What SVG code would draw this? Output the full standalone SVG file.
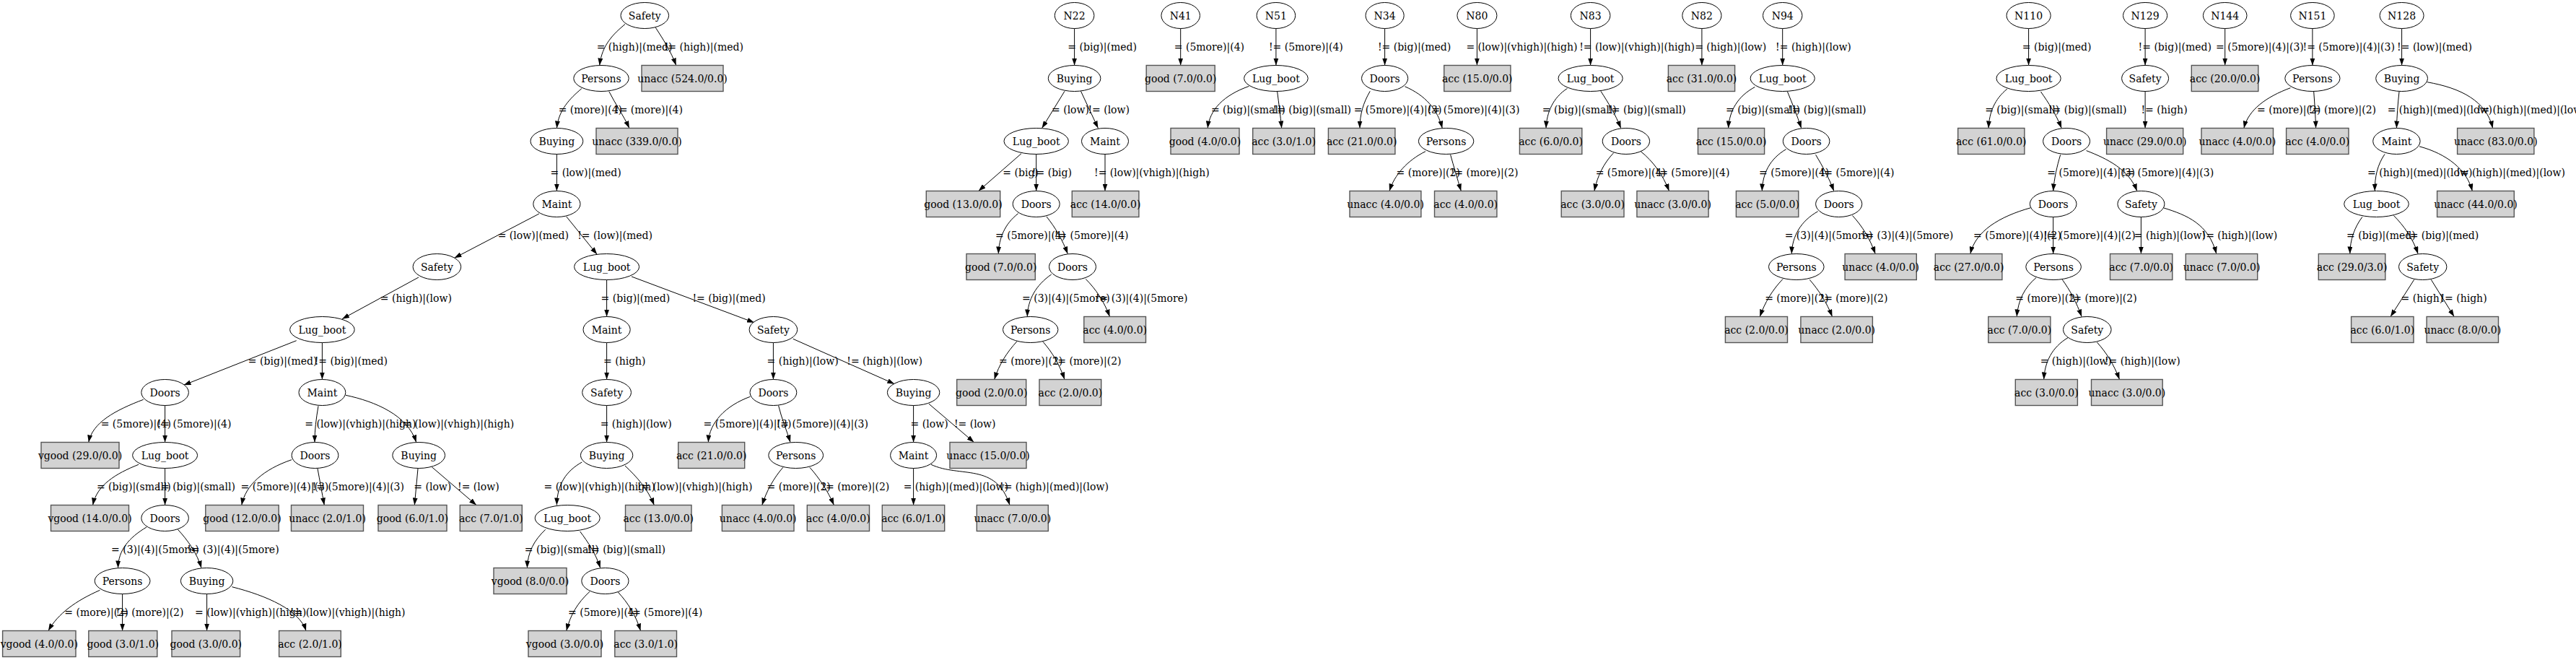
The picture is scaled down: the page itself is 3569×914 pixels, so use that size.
<svg xmlns="http://www.w3.org/2000/svg" width="3569" height="914" viewBox="0 0 3569 914">
<style>
text{font-family:"DejaVu Serif","Liberation Serif",serif;font-size:14px;fill:#000}
.n ellipse{fill:#fff;stroke:#000;stroke-width:1}
.lf rect{fill:#d3d3d3;stroke:#555;stroke-width:1.4}
.n text,.lf text{text-anchor:middle}
#edges path{fill:none;stroke:#000;stroke-width:1;marker-end:url(#ah)}
.e{text-anchor:end}
</style>
<defs>
<marker id="ah" markerUnits="userSpaceOnUse" markerWidth="10" markerHeight="7" viewBox="0 0 10 7" refX="10" refY="3.5" orient="auto"><path d="M0,0L10,3.5L0,7z" fill="#000"/></marker>
</defs>
<rect width="3569" height="914" fill="#fff"/>
<g id="edges">
<!-- tree 1 -->
<path d="M866,33.5 C850,47 834,62 830.7,90.5"/>
<path d="M908.3,38.3 C918,53 930,72 936.7,90.5"/>
<path d="M805.8,122.7 C790,136 774,152 771.4,177.5"/>
<path d="M843.8,126.7 C853,145 864,160 871.9,177.5"/>
<path d="M771.4,213.5 L771.4,264.5"/>
<path d="M746.9,296 L629.5,357.3"/>
<path d="M784.8,300 L827.2,352.3"/>
<path d="M580,384 L474,441.7"/>
<path d="M840.6,387.5 L840.6,438.5"/>
<path d="M875,383 L1045,446.7"/>
<path d="M410.7,471.7 L254.5,533.3"/>
<path d="M446.4,474.5 L446.4,525.5"/>
<path d="M840.6,474.5 L840.6,525.5"/>
<path d="M1071.4,474.5 L1071.4,525.5"/>
<path d="M1098.7,469.3 L1239.3,531.7"/>
<path d="M198.7,553.3 C160,568 128,585 122.8,612.5"/>
<path d="M228.6,561.5 L228.6,612.5"/>
<path d="M441,562.3 C438,580 436,595 436,612.5"/>
<path d="M479,547.3 C520,556 565,575 576.7,612.5"/>
<path d="M840.6,561.5 L840.6,612.5"/>
<path d="M1039.3,549.3 C1005,562 983,585 981.3,612.5"/>
<path d="M1078.6,561.7 C1083,580 1090,596 1095,612.5"/>
<path d="M1265.6,561.5 L1265.6,612.5"/>
<path d="M1287,559.3 L1349.5,612.5"/>
<path d="M192,643.3 C160,656 134,672 128.6,699.5"/>
<path d="M228.6,648.5 L228.6,699.5"/>
<path d="M404,636.7 C365,650 340,672 334.8,699.5"/>
<path d="M440,649 C443,665 446,682 449.3,699.5"/>
<path d="M579,649 L574.3,699.5"/>
<path d="M598.3,646.7 L660,699.5"/>
<path d="M806.3,640 C785,652 772,670 771.4,699.5"/>
<path d="M866,645 C882,660 898,678 906.3,699.5"/>
<path d="M1084.8,647.3 C1072,662 1062,680 1055.8,699.5"/>
<path d="M1121.9,647.3 C1135,662 1147,680 1155.4,699.5"/>
<path d="M1265.6,648.5 L1265.6,699.5"/>
<path d="M1290,643.3 C1330,662 1380,640 1399,699.5"/>
<path d="M203,730 C178,745 164,762 163.5,786.5"/>
<path d="M246.4,733.3 C260,748 273,766 279,786.5"/>
<path d="M755.8,733.3 C740,748 731,765 730.4,786.5"/>
<path d="M803.6,736 C815,751 826,768 831.7,786.5"/>
<path d="M138.4,817.3 C105,832 80,850 67,873.5"/>
<path d="M169.6,822.5 L169.6,873.5"/>
<path d="M286.6,822.5 L286.6,873.5"/>
<path d="M321.4,812.7 C370,825 415,845 424,873.5"/>
<path d="M817,819.3 C800,835 790,852 784.8,873.5"/>
<path d="M856.3,820 C870,835 881,852 887.5,873.5"/>
<!-- N22 -->
<path d="M1488.6,39.5 L1488.6,90.5"/>
<path d="M1475,126.3 L1443.6,177.5"/>
<path d="M1497.5,126.3 L1521.4,177.5"/>
<path d="M1415,212.7 L1355.7,264.5"/>
<path d="M1435.7,213.5 L1435.7,264.5"/>
<path d="M1531,213.5 L1531,264.5"/>
<path d="M1410.7,295.7 C1392,310 1384,330 1383.3,351.5"/>
<path d="M1450,300 C1462,315 1472,332 1479.3,351.5"/>
<path d="M1456.7,380 C1435,395 1424,415 1423.3,438.5"/>
<path d="M1504.3,386.5 C1518,400 1530,418 1537.5,438.5"/>
<path d="M1409,472.7 C1395,488 1384,505 1377.7,525.5"/>
<path d="M1445,473.3 C1458,488 1468,505 1475,525.5"/>
<!-- N41 -->
<path d="M1635.7,39.5 L1635.7,90.5"/>
<!-- N51 -->
<path d="M1767.9,39.5 L1767.9,90.5"/>
<path d="M1730.4,119.4 C1695,132 1676,152 1673.2,177.5"/>
<path d="M1769.6,126.5 C1772,145 1774,160 1775.7,177.5"/>
<!-- N34 -->
<path d="M1918.6,39.5 L1918.6,90.5"/>
<path d="M1898.2,126.3 C1889,142 1884,158 1884,177.5"/>
<path d="M1946.4,119.8 C1975,132 1992,152 1998.2,177.5"/>
<path d="M1975,209.7 C1950,222 1932,242 1925,264.5"/>
<path d="M2009.6,214.3 C2014,230 2019,247 2024.3,264.5"/>
<!-- N80 -->
<path d="M2046.4,39.5 L2046.4,90.5"/>
<!-- N83 -->
<path d="M2203.6,39.5 L2203.6,90.5"/>
<path d="M2171.4,122.5 C2152,135 2143,155 2142,177.5"/>
<path d="M2217.9,126.3 C2228,142 2238,158 2245.7,177.5"/>
<path d="M2235.7,211.6 C2222,226 2213,244 2208.9,264.5"/>
<path d="M2273.2,209.7 C2290,223 2304,242 2312.5,264.5"/>
<!-- N82 -->
<path d="M2357.9,39.5 L2357.9,90.5"/>
<!-- N94 -->
<path d="M2469.7,39.5 L2469.7,90.5"/>
<path d="M2431.4,120.5 C2408,133 2396,153 2394.6,177.5"/>
<path d="M2476.5,127 C2483,143 2490,160 2495.7,177.5"/>
<path d="M2474.6,206.7 C2452,220 2442,240 2441.3,264.5"/>
<path d="M2515.6,214.3 C2525,230 2534,246 2540.8,264.5"/>
<path d="M2518.6,292.8 C2495,306 2483,327 2482.3,351.5"/>
<path d="M2566.5,298.5 C2580,313 2591,331 2598.2,351.5"/>
<path d="M2470,386.5 C2456,401 2445,419 2438.3,438.5"/>
<path d="M2507.2,387.3 C2520,402 2531,419 2538.5,438.5"/>
<!-- N110 -->
<path d="M2810.6,39.5 L2810.6,90.5"/>
<path d="M2780.8,123.2 C2764,137 2756,155 2755.1,177.5"/>
<path d="M2827.5,127 C2838,142 2849,159 2856.2,177.5"/>
<path d="M2854.7,214.3 C2850,230 2846,247 2844.7,264.5"/>
<path d="M2890.6,208.6 C2920,220 2950,235 2960.7,264.5"/>
<path d="M2813.3,287.8 C2770,300 2737,320 2729.9,351.5"/>
<path d="M2844.7,300.5 L2844.7,351.5"/>
<path d="M2966.4,300.5 L2966.4,351.5"/>
<path d="M2998,288 C3030,298 3060,310 3070.8,351.5"/>
<path d="M2821,384.6 C2805,398 2796,416 2794.2,438.5"/>
<path d="M2857.3,387.3 C2868,402 2877,419 2884.1,438.5"/>
<path d="M2865,467.7 C2843,481 2833,501 2831.7,525.5"/>
<path d="M2905.2,473.8 C2918,488 2929,505 2936.5,525.5"/>
<!-- N129 -->
<path d="M2972.1,39.5 L2972.1,90.5"/>
<path d="M2972.1,126.5 L2972.1,177.5"/>
<!-- N144 -->
<path d="M3082.7,39.5 L3082.7,90.5"/>
<!-- N151 -->
<path d="M3203.9,39.5 L3203.9,90.5"/>
<path d="M3173.4,121.7 C3140,134 3115,152 3108.9,177.5"/>
<path d="M3205.7,127 C3207,145 3208,160 3208.6,177.5"/>
<!-- N128 -->
<path d="M3327.6,39.5 L3327.6,90.5"/>
<path d="M3324,127 C3322,145 3321,160 3320.4,177.5"/>
<path d="M3362.8,113.7 C3410,122 3445,140 3453.6,177.5"/>
<path d="M3304,213.5 C3294,228 3290,245 3290.3,264.5"/>
<path d="M3352,202.8 C3390,213 3418,235 3425.3,264.5"/>
<path d="M3272.9,300.4 C3262,315 3256,332 3255.8,351.5"/>
<path d="M3316.4,298.5 C3330,312 3343,330 3350.1,351.5"/>
<path d="M3344.7,387.3 L3312,438.5"/>
<path d="M3368.3,387.3 L3400.2,438.5"/>
<!-- edge labels -->
<g id="edge-labels">
<text x="826.7" y="69.5">= (high)|(med)</text>
<text class="e" x="1030" y="69.5">!= (high)|(med)</text>
<text x="773.7" y="156.5">= (more)|(4)</text>
<text class="e" x="946" y="156.5">!= (more)|(4)</text>
<text x="762.5" y="243.5">= (low)|(med)</text>
<text x="689.7" y="330.5">= (low)|(med)</text>
<text class="e" x="904" y="330.5">!= (low)|(med)</text>
<text x="526.8" y="417.5">= (high)|(low)</text>
<text x="832.6" y="417.5">= (big)|(med)</text>
<text class="e" x="1060.7" y="417.5">!= (big)|(med)</text>
<text x="343.8" y="504.5">= (big)|(med)</text>
<text class="e" x="537" y="504.5">!= (big)|(med)</text>
<text x="836" y="504.5">= (high)</text>
<text x="1062.5" y="504.5">= (high)|(low)</text>
<text class="e" x="1278" y="504.5">!= (high)|(low)</text>
<text x="139.7" y="591.5">= (5more)|(4)</text>
<text class="e" x="320.5" y="591.5">!= (5more)|(4)</text>
<text x="422.3" y="591.5">= (low)|(vhigh)|(high)</text>
<text class="e" x="712.3" y="591.5">!= (low)|(vhigh)|(high)</text>
<text x="831.7" y="591.5">= (high)|(low)</text>
<text x="974.6" y="591.5">= (5more)|(4)|(3)</text>
<text class="e" x="1203" y="591.5">!= (5more)|(4)|(3)</text>
<text x="1261.6" y="591.5">= (low)</text>
<text class="e" x="1379.5" y="591.5">!= (low)</text>
<text x="133.9" y="678.5">= (big)|(small)</text>
<text class="e" x="325.9" y="678.5">!= (big)|(small)</text>
<text x="333.5" y="678.5">= (5more)|(4)|(3)</text>
<text class="e" x="560" y="678.5">!= (5more)|(4)|(3)</text>
<text x="573.3" y="678.5">= (low)</text>
<text class="e" x="691.7" y="678.5">!= (low)</text>
<text x="753.6" y="678.5">= (low)|(vhigh)|(high)</text>
<text class="e" x="1042.4" y="678.5">!= (low)|(vhigh)|(high)</text>
<text x="1062.5" y="678.5">= (more)|(2)</text>
<text class="e" x="1232.3" y="678.5">!= (more)|(2)</text>
<text x="1251.7" y="678.5">= (high)|(med)|(low)</text>
<text x="1385" y="678.5">!= (high)|(med)|(low)</text>
<text x="154" y="765.5">= (3)|(4)|(5more)</text>
<text class="e" x="386.6" y="765.5">!= (3)|(4)|(5more)</text>
<text x="726.8" y="765.5">= (big)|(small)</text>
<text class="e" x="921.9" y="765.5">!= (big)|(small)</text>
<text x="89.3" y="852.5">= (more)|(2)</text>
<text class="e" x="254.5" y="852.5">!= (more)|(2)</text>
<text x="270" y="852.5">= (low)|(vhigh)|(high)</text>
<text class="e" x="561.6" y="852.5">!= (low)|(vhigh)|(high)</text>
<text x="787" y="852.5">= (5more)|(4)</text>
<text class="e" x="973.2" y="852.5">!= (5more)|(4)</text>
<!-- N22 -->
<text x="1479.3" y="69.5">= (big)|(med)</text>
<text x="1457" y="156.5">= (low)</text>
<text class="e" x="1565" y="156.5">!= (low)</text>
<text x="1389.3" y="243.5">= (big)</text>
<text class="e" x="1485" y="243.5">!= (big)</text>
<text x="1516" y="243.5">!= (low)|(vhigh)|(high)</text>
<text x="1379" y="330.5">= (5more)|(4)</text>
<text class="e" x="1563.6" y="330.5">!= (5more)|(4)</text>
<text x="1416" y="417.5">= (3)|(4)|(5more)</text>
<text class="e" x="1645.4" y="417.5">!= (3)|(4)|(5more)</text>
<text x="1384" y="504.5">= (more)|(2)</text>
<text class="e" x="1553.6" y="504.5">!= (more)|(2)</text>
<!-- N41 -->
<text x="1626.8" y="69.5">= (5more)|(4)</text>
<!-- N51 -->
<text x="1757.9" y="69.5">!= (5more)|(4)</text>
<text x="1677.9" y="156.5">= (big)|(small)</text>
<text class="e" x="1872.1" y="156.5">!= (big)|(small)</text>
<!-- N34 -->
<text x="1908.9" y="69.5">!= (big)|(med)</text>
<text x="1875.7" y="156.5">= (5more)|(4)|(3)</text>
<text class="e" x="2105.4" y="156.5">!= (5more)|(4)|(3)</text>
<text x="1934.6" y="243.5">= (more)|(2)</text>
<text class="e" x="2103.6" y="243.5">!= (more)|(2)</text>
<!-- N80 -->
<text x="2031.4" y="69.5">= (low)|(vhigh)|(high)</text>
<!-- N83 -->
<text x="2188.2" y="69.5">!= (low)|(vhigh)|(high)</text>
<text x="2136.8" y="156.5">= (big)|(small)</text>
<text class="e" x="2335.7" y="156.5">!= (big)|(small)</text>
<text x="2210.7" y="243.5">= (5more)|(4)</text>
<text class="e" x="2396.4" y="243.5">!= (5more)|(4)</text>
<!-- N82 -->
<text x="2348.2" y="69.5">= (high)|(low)</text>
<!-- N94 -->
<text x="2460.1" y="69.5">!= (high)|(low)</text>
<text x="2391" y="156.5">= (big)|(small)</text>
<text class="e" x="2585.6" y="156.5">!= (big)|(small)</text>
<text x="2437.1" y="243.5">= (5more)|(4)</text>
<text class="e" x="2624.6" y="243.5">!= (5more)|(4)</text>
<text x="2472.7" y="330.5">= (3)|(4)|(5more)</text>
<text class="e" x="2706.2" y="330.5">!= (3)|(4)|(5more)</text>
<text x="2445.2" y="417.5">= (more)|(2)</text>
<text class="e" x="2615.5" y="417.5">!= (more)|(2)</text>
<!-- N110 -->
<text x="2801.8" y="69.5">= (big)|(med)</text>
<text x="2750.2" y="156.5">= (big)|(small)</text>
<text class="e" x="2946.5" y="156.5">!= (big)|(small)</text>
<text x="2836.3" y="243.5">= (5more)|(4)|(3)</text>
<text class="e" x="3067.1" y="243.5">!= (5more)|(4)|(3)</text>
<text x="2734.1" y="330.5">= (5more)|(4)|(2)</text>
<text class="e" x="2958.7" y="330.5">!= (5more)|(4)|(2)</text>
<text x="2956.8" y="330.5">= (high)|(low)</text>
<text class="e" x="3155.3" y="330.5">!= (high)|(low)</text>
<text x="2792.3" y="417.5">= (more)|(2)</text>
<text class="e" x="2960.7" y="417.5">!= (more)|(2)</text>
<text x="2826.7" y="504.5">= (high)|(low)</text>
<text class="e" x="3020.7" y="504.5">!= (high)|(low)</text>
<!-- N129 -->
<text x="2962.6" y="69.5">!= (big)|(med)</text>
<text x="2966.4" y="156.5">!= (high)</text>
<!-- N144 -->
<text x="3070" y="69.5">= (5more)|(4)|(3)</text>
<!-- N151 -->
<text x="3190.5" y="69.5">!= (5more)|(4)|(3)</text>
<text x="3127" y="156.5">= (more)|(2)</text>
<text class="e" x="3292.1" y="156.5">!= (more)|(2)</text>
<!-- N128 -->
<text x="3321.1" y="69.5">!= (low)|(med)</text>
<text x="3307.7" y="156.5">= (high)|(med)|(low)</text>
<text x="3431.8" y="156.5">!= (high)|(med)|(low)</text>
<text x="3280.1" y="243.5">= (high)|(med)|(low)</text>
<text class="e" x="3554" y="243.5">!= (high)|(med)|(low)</text>
<text x="3251.1" y="330.5">= (big)|(med)</text>
<text class="e" x="3434.3" y="330.5">!= (big)|(med)</text>
<text x="3326.6" y="417.5">= (high)</text>
<text class="e" x="3445.6" y="417.5">!= (high)</text>
</g>
</g>
<!-- tree 1 nodes -->
<g id="t1_safety" class="n"><ellipse cx="893.3" cy="21.5" rx="33.3" ry="18"/><text x="893.3" y="26.5">Safety</text></g>
<g id="t1_persons" class="n"><ellipse cx="833" cy="108.5" rx="38.2" ry="18"/><text x="833" y="113.5">Persons</text></g>
<g id="t1_leaf_unacc524" class="lf"><rect x="889" y="90.5" width="113" height="36"/><text x="945.5" y="113.5">unacc (524.0/0.0)</text></g>
<g id="t1_buying" class="n"><ellipse cx="771.4" cy="195.5" rx="36.4" ry="18"/><text x="771.4" y="200.5">Buying</text></g>
<g id="t1_leaf_unacc339" class="lf"><rect x="826" y="177.5" width="113" height="36"/><text x="882.5" y="200.5">unacc (339.0/0.0)</text></g>
<g id="t1_maint" class="n"><ellipse cx="771.4" cy="282.5" rx="32.6" ry="18"/><text x="771.4" y="287.5">Maint</text></g>
<g id="t1_safety2" class="n"><ellipse cx="605.4" cy="369.5" rx="33.3" ry="18"/><text x="605.4" y="374.5">Safety</text></g>
<g id="t1_lugboot" class="n"><ellipse cx="840.6" cy="369.5" rx="45" ry="18"/><text x="840.6" y="374.5">Lug_boot</text></g>
<g id="t1_lugboot2" class="n"><ellipse cx="446.4" cy="456.5" rx="44.8" ry="18"/><text x="446.4" y="461.5">Lug_boot</text></g>
<g id="t1_maint2" class="n"><ellipse cx="840.6" cy="456.5" rx="32.6" ry="18"/><text x="840.6" y="461.5">Maint</text></g>
<g id="t1_safety3" class="n"><ellipse cx="1071.4" cy="456.5" rx="33.3" ry="18"/><text x="1071.4" y="461.5">Safety</text></g>
<g id="t1_doors" class="n"><ellipse cx="228.6" cy="543.5" rx="32.8" ry="18"/><text x="228.6" y="548.5">Doors</text></g>
<g id="t1_maint3" class="n"><ellipse cx="446.4" cy="543.5" rx="32.4" ry="18"/><text x="446.4" y="548.5">Maint</text></g>
<g id="t1_safety4" class="n"><ellipse cx="840.6" cy="543.5" rx="33.9" ry="18"/><text x="840.6" y="548.5">Safety</text></g>
<g id="t1_doors2" class="n"><ellipse cx="1071.4" cy="543.5" rx="32.4" ry="18"/><text x="1071.4" y="548.5">Doors</text></g>
<g id="t1_buying2" class="n"><ellipse cx="1265.6" cy="543.5" rx="36.2" ry="18"/><text x="1265.6" y="548.5">Buying</text></g>
<g id="t1_leaf_vgood29" class="lf"><rect x="57" y="612.5" width="108" height="36"/><text x="111" y="635.5">vgood (29.0/0.0)</text></g>
<g id="t1_lugboot3" class="n"><ellipse cx="228.6" cy="630.5" rx="45" ry="18"/><text x="228.6" y="635.5">Lug_boot</text></g>
<g id="t1_doors3" class="n"><ellipse cx="436.5" cy="630.5" rx="32.4" ry="18"/><text x="436.5" y="635.5">Doors</text></g>
<g id="t1_buying3" class="n"><ellipse cx="580.2" cy="630.5" rx="36.4" ry="18"/><text x="580.2" y="635.5">Buying</text></g>
<g id="t1_buying4" class="n"><ellipse cx="840.6" cy="630.5" rx="36.2" ry="18"/><text x="840.6" y="635.5">Buying</text></g>
<g id="t1_leaf_acc21" class="lf"><rect x="939.7" y="612.5" width="92" height="36"/><text x="985.7" y="635.5">acc (21.0/0.0)</text></g>
<g id="t1_persons2" class="n"><ellipse cx="1102.7" cy="630.5" rx="37.9" ry="18"/><text x="1102.7" y="635.5">Persons</text></g>
<g id="t1_maint4" class="n"><ellipse cx="1265.6" cy="630.5" rx="32" ry="18"/><text x="1265.6" y="635.5">Maint</text></g>
<g id="t1_leaf_unacc15" class="lf"><rect x="1316" y="612.5" width="106" height="36"/><text x="1369" y="635.5">unacc (15.0/0.0)</text></g>
<g id="t1_leaf_vgood14" class="lf"><rect x="70.5" y="699.5" width="108" height="36"/><text x="124.5" y="722.5">vgood (14.0/0.0)</text></g>
<g id="t1_doors4" class="n"><ellipse cx="228.6" cy="717.5" rx="32.8" ry="18"/><text x="228.6" y="722.5">Doors</text></g>
<g id="t1_leaf_good12" class="lf"><rect x="284.8" y="699.5" width="101.4" height="36"/><text x="335.5" y="722.5">good (12.0/0.0)</text></g>
<g id="t1_leaf_unacc2_1" class="lf"><rect x="403.5" y="699.5" width="100" height="36"/><text x="453.5" y="722.5">unacc (2.0/1.0)</text></g>
<g id="t1_leaf_good6_1" class="lf"><rect x="524" y="699.5" width="95" height="36"/><text x="571.5" y="722.5">good (6.0/1.0)</text></g>
<g id="t1_leaf_acc7_1" class="lf"><rect x="637.3" y="699.5" width="86" height="36"/><text x="680.3" y="722.5">acc (7.0/1.0)</text></g>
<g id="t1_lugboot4" class="n"><ellipse cx="786.2" cy="717.5" rx="45" ry="18"/><text x="786.2" y="722.5">Lug_boot</text></g>
<g id="t1_leaf_acc13" class="lf"><rect x="866.5" y="699.5" width="91.5" height="36"/><text x="912.3" y="722.5">acc (13.0/0.0)</text></g>
<g id="t1_leaf_unacc4" class="lf"><rect x="1000.4" y="699.5" width="99.6" height="36"/><text x="1050.2" y="722.5">unacc (4.0/0.0)</text></g>
<g id="t1_leaf_acc4" class="lf"><rect x="1118.3" y="699.5" width="86.2" height="36"/><text x="1161.4" y="722.5">acc (4.0/0.0)</text></g>
<g id="t1_leaf_acc6_1" class="lf"><rect x="1222.3" y="699.5" width="86.4" height="36"/><text x="1265.5" y="722.5">acc (6.0/1.0)</text></g>
<g id="t1_leaf_unacc7" class="lf"><rect x="1353.3" y="699.5" width="99" height="36"/><text x="1402.8" y="722.5">unacc (7.0/0.0)</text></g>
<g id="t1_persons3" class="n"><ellipse cx="169.6" cy="804.5" rx="38.4" ry="18"/><text x="169.6" y="809.5">Persons</text></g>
<g id="t1_buying5" class="n"><ellipse cx="286.6" cy="804.5" rx="36.2" ry="18"/><text x="286.6" y="809.5">Buying</text></g>
<g id="t1_leaf_vgood8" class="lf"><rect x="684" y="786.5" width="101" height="36"/><text x="734.5" y="809.5">vgood (8.0/0.0)</text></g>
<g id="t1_doors5" class="n"><ellipse cx="838.4" cy="804.5" rx="32.6" ry="18"/><text x="838.4" y="809.5">Doors</text></g>
<g id="t1_leaf_vgood4" class="lf"><rect x="3.6" y="873.5" width="101.4" height="36"/><text x="54.3" y="896.5">vgood (4.0/0.0)</text></g>
<g id="t1_leaf_good3_1" class="lf"><rect x="122.8" y="873.5" width="95" height="36"/><text x="170.3" y="896.5">good (3.0/1.0)</text></g>
<g id="t1_leaf_good3_0" class="lf"><rect x="238" y="873.5" width="94.6" height="36"/><text x="285.3" y="896.5">good (3.0/0.0)</text></g>
<g id="t1_leaf_acc2_1" class="lf"><rect x="386.6" y="873.5" width="85.7" height="36"/><text x="429.5" y="896.5">acc (2.0/1.0)</text></g>
<g id="t1_leaf_vgood3" class="lf"><rect x="732" y="873.5" width="101" height="36"/><text x="782.5" y="896.5">vgood (3.0/0.0)</text></g>
<g id="t1_leaf_acc3_1" class="lf"><rect x="851.8" y="873.5" width="85.7" height="36"/><text x="894.7" y="896.5">acc (3.0/1.0)</text></g>
<!-- N22 tree -->
<g id="n22" class="n"><ellipse cx="1488.6" cy="21.5" rx="27.3" ry="18"/><text x="1488.6" y="26.5">N22</text></g>
<g id="n22_buying" class="n"><ellipse cx="1488.6" cy="108.5" rx="36.3" ry="18"/><text x="1488.6" y="113.5">Buying</text></g>
<g id="n22_lugboot" class="n"><ellipse cx="1435.7" cy="195.5" rx="44.7" ry="18"/><text x="1435.7" y="200.5">Lug_boot</text></g>
<g id="n22_maint" class="n"><ellipse cx="1531" cy="195.5" rx="32.5" ry="18"/><text x="1531" y="200.5">Maint</text></g>
<g id="n22_leaf_good13" class="lf"><rect x="1283.3" y="264.5" width="102.4" height="36"/><text x="1334.5" y="287.5">good (13.0/0.0)</text></g>
<g id="n22_doors" class="n"><ellipse cx="1435.7" cy="282.5" rx="32.5" ry="18"/><text x="1435.7" y="287.5">Doors</text></g>
<g id="n22_leaf_acc14" class="lf"><rect x="1485.3" y="264.5" width="92.6" height="36"/><text x="1531.6" y="287.5">acc (14.0/0.0)</text></g>
<g id="n22_leaf_good7" class="lf"><rect x="1339" y="351.5" width="95.3" height="36"/><text x="1386.7" y="374.5">good (7.0/0.0)</text></g>
<g id="n22_doors2" class="n"><ellipse cx="1486" cy="369.5" rx="32.5" ry="18"/><text x="1486" y="374.5">Doors</text></g>
<g id="n22_persons" class="n"><ellipse cx="1427.7" cy="456.5" rx="38.2" ry="18"/><text x="1427.7" y="461.5">Persons</text></g>
<g id="n22_leaf_acc4" class="lf"><rect x="1501.8" y="438.5" width="85.7" height="36"/><text x="1544.7" y="461.5">acc (4.0/0.0)</text></g>
<g id="n22_leaf_good2" class="lf"><rect x="1325.7" y="525.5" width="96" height="36"/><text x="1373.7" y="548.5">good (2.0/0.0)</text></g>
<g id="n22_leaf_acc2" class="lf"><rect x="1440" y="525.5" width="85.7" height="36"/><text x="1482.9" y="548.5">acc (2.0/0.0)</text></g>
<!-- N41 -->
<g id="n41" class="n"><ellipse cx="1635.7" cy="21.5" rx="26.8" ry="18"/><text x="1635.7" y="26.5">N41</text></g>
<g id="n41_leaf_good7" class="lf"><rect x="1588.2" y="90.5" width="95" height="36"/><text x="1635.7" y="113.5">good (7.0/0.0)</text></g>
<!-- N51 -->
<g id="n51" class="n"><ellipse cx="1767.9" cy="21.5" rx="26.8" ry="18"/><text x="1767.9" y="26.5">N51</text></g>
<g id="n51_lugboot" class="n"><ellipse cx="1767.9" cy="108.5" rx="44.3" ry="18"/><text x="1767.9" y="113.5">Lug_boot</text></g>
<g id="n51_leaf_good4" class="lf"><rect x="1622" y="177.5" width="95" height="36"/><text x="1669.5" y="200.5">good (4.0/0.0)</text></g>
<g id="n51_leaf_acc3" class="lf"><rect x="1735.7" y="177.5" width="85.7" height="36"/><text x="1778.6" y="200.5">acc (3.0/1.0)</text></g>
<!-- N34 -->
<g id="n34" class="n"><ellipse cx="1918.6" cy="21.5" rx="26.6" ry="18"/><text x="1918.6" y="26.5">N34</text></g>
<g id="n34_doors" class="n"><ellipse cx="1918.6" cy="108.5" rx="32.1" ry="18"/><text x="1918.6" y="113.5">Doors</text></g>
<g id="n34_leaf_acc21" class="lf"><rect x="1840.4" y="177.5" width="92.5" height="36"/><text x="1886.7" y="200.5">acc (21.0/0.0)</text></g>
<g id="n34_persons" class="n"><ellipse cx="2003.6" cy="195.5" rx="38.2" ry="18"/><text x="2003.6" y="200.5">Persons</text></g>
<g id="n34_leaf_unacc4" class="lf"><rect x="1870" y="264.5" width="98.9" height="36"/><text x="1919.5" y="287.5">unacc (4.0/0.0)</text></g>
<g id="n34_leaf_acc4" class="lf"><rect x="1987.5" y="264.5" width="86.4" height="36"/><text x="2030.7" y="287.5">acc (4.0/0.0)</text></g>
<!-- N80 -->
<g id="n80" class="n"><ellipse cx="2046.4" cy="21.5" rx="27.5" ry="18"/><text x="2046.4" y="26.5">N80</text></g>
<g id="n80_leaf_acc15" class="lf"><rect x="2000.7" y="90.5" width="92.2" height="36"/><text x="2046.8" y="113.5">acc (15.0/0.0)</text></g>
<!-- N83 -->
<g id="n83" class="n"><ellipse cx="2203.6" cy="21.5" rx="27.3" ry="18"/><text x="2203.6" y="26.5">N83</text></g>
<g id="n83_lugboot" class="n"><ellipse cx="2203.6" cy="108.5" rx="44.6" ry="18"/><text x="2203.6" y="113.5">Lug_boot</text></g>
<g id="n83_leaf_acc6" class="lf"><rect x="2105.4" y="177.5" width="86.4" height="36"/><text x="2148.6" y="200.5">acc (6.0/0.0)</text></g>
<g id="n83_doors" class="n"><ellipse cx="2252.9" cy="195.5" rx="32.7" ry="18"/><text x="2252.9" y="200.5">Doors</text></g>
<g id="n83_leaf_acc3" class="lf"><rect x="2163.2" y="264.5" width="86.8" height="36"/><text x="2206.6" y="287.5">acc (3.0/0.0)</text></g>
<g id="n83_leaf_unacc3" class="lf"><rect x="2267.9" y="264.5" width="99.2" height="36"/><text x="2317.5" y="287.5">unacc (3.0/0.0)</text></g>
<!-- N82 -->
<g id="n82" class="n"><ellipse cx="2357.9" cy="21.5" rx="27.1" ry="18"/><text x="2357.9" y="26.5">N82</text></g>
<g id="n82_leaf_acc31" class="lf"><rect x="2311.4" y="90.5" width="92.2" height="36"/><text x="2357.5" y="113.5">acc (31.0/0.0)</text></g>
<!-- N94 -->
<g id="n94" class="n"><ellipse cx="2469.7" cy="21.5" rx="27.2" ry="18"/><text x="2469.7" y="26.5">N94</text></g>
<g id="n94_lugboot" class="n"><ellipse cx="2469.7" cy="108.5" rx="44.6" ry="18"/><text x="2469.7" y="113.5">Lug_boot</text></g>
<g id="n94_leaf_acc15" class="lf"><rect x="2352.5" y="177.5" width="92.1" height="36"/><text x="2398.6" y="200.5">acc (15.0/0.0)</text></g>
<g id="n94_doors" class="n"><ellipse cx="2502.6" cy="195.5" rx="32.3" ry="18"/><text x="2502.6" y="200.5">Doors</text></g>
<g id="n94_leaf_acc5" class="lf"><rect x="2405.4" y="264.5" width="86.4" height="36"/><text x="2448.6" y="287.5">acc (5.0/0.0)</text></g>
<g id="n94_doors2" class="n"><ellipse cx="2547.7" cy="282.5" rx="32.1" ry="18"/><text x="2547.7" y="287.5">Doors</text></g>
<g id="n94_persons" class="n"><ellipse cx="2488.8" cy="369.5" rx="38.3" ry="18"/><text x="2488.8" y="374.5">Persons</text></g>
<g id="n94_leaf_unacc4" class="lf"><rect x="2556.1" y="351.5" width="99.2" height="36"/><text x="2605.7" y="374.5">unacc (4.0/0.0)</text></g>
<g id="n94_leaf_acc2" class="lf"><rect x="2390.4" y="438.5" width="86.1" height="36"/><text x="2433.5" y="461.5">acc (2.0/0.0)</text></g>
<g id="n94_leaf_unacc2" class="lf"><rect x="2494.9" y="438.5" width="99.5" height="36"/><text x="2544.7" y="461.5">unacc (2.0/0.0)</text></g>
<!-- N110 -->
<g id="n110" class="n"><ellipse cx="2810.6" cy="21.5" rx="30.6" ry="18"/><text x="2810.6" y="26.5">N110</text></g>
<g id="n110_lugboot" class="n"><ellipse cx="2810.6" cy="108.5" rx="44.6" ry="18"/><text x="2810.6" y="113.5">Lug_boot</text></g>
<g id="n110_leaf_acc61" class="lf"><rect x="2712.7" y="177.5" width="92.2" height="36"/><text x="2758.8" y="200.5">acc (61.0/0.0)</text></g>
<g id="n110_doors" class="n"><ellipse cx="2863.1" cy="195.5" rx="32.5" ry="18"/><text x="2863.1" y="200.5">Doors</text></g>
<g id="n110_doors2" class="n"><ellipse cx="2844.7" cy="282.5" rx="32.3" ry="18"/><text x="2844.7" y="287.5">Doors</text></g>
<g id="n110_safety" class="n"><ellipse cx="2966.4" cy="282.5" rx="32.5" ry="18"/><text x="2966.4" y="287.5">Safety</text></g>
<g id="n110_leaf_acc27" class="lf"><rect x="2681.3" y="351.5" width="92.6" height="36"/><text x="2727.6" y="374.5">acc (27.0/0.0)</text></g>
<g id="n110_persons" class="n"><ellipse cx="2845.1" cy="369.5" rx="38.3" ry="18"/><text x="2845.1" y="374.5">Persons</text></g>
<g id="n110_leaf_acc7a" class="lf"><rect x="2923.5" y="351.5" width="86.3" height="36"/><text x="2966.7" y="374.5">acc (7.0/0.0)</text></g>
<g id="n110_leaf_unacc7" class="lf"><rect x="3028.3" y="351.5" width="99.4" height="36"/><text x="3078" y="374.5">unacc (7.0/0.0)</text></g>
<g id="n110_leaf_acc7b" class="lf"><rect x="2754.8" y="438.5" width="86.1" height="36"/><text x="2797.9" y="461.5">acc (7.0/0.0)</text></g>
<g id="n110_safety2" class="n"><ellipse cx="2891.8" cy="456.5" rx="33.3" ry="18"/><text x="2891.8" y="461.5">Safety</text></g>
<g id="n110_leaf_acc3" class="lf"><rect x="2792.3" y="525.5" width="86.1" height="36"/><text x="2835.4" y="548.5">acc (3.0/0.0)</text></g>
<g id="n110_leaf_unacc3" class="lf"><rect x="2897.5" y="525.5" width="98.7" height="36"/><text x="2946.9" y="548.5">unacc (3.0/0.0)</text></g>
<!-- N129 -->
<g id="n129" class="n"><ellipse cx="2972.1" cy="21.5" rx="30.6" ry="18"/><text x="2972.1" y="26.5">N129</text></g>
<g id="n129_safety" class="n"><ellipse cx="2972.1" cy="108.5" rx="32.5" ry="18"/><text x="2972.1" y="113.5">Safety</text></g>
<g id="n129_leaf_unacc29" class="lf"><rect x="2918.6" y="177.5" width="106.1" height="36"/><text x="2971.7" y="200.5">unacc (29.0/0.0)</text></g>
<!-- N144 -->
<g id="n144" class="n"><ellipse cx="3082.7" cy="21.5" rx="30.3" ry="18"/><text x="3082.7" y="26.5">N144</text></g>
<g id="n144_leaf_acc20" class="lf"><rect x="3036.3" y="90.5" width="92.5" height="36"/><text x="3082.6" y="113.5">acc (20.0/0.0)</text></g>
<!-- N151 -->
<g id="n151" class="n"><ellipse cx="3203.9" cy="21.5" rx="30.3" ry="18"/><text x="3203.9" y="26.5">N151</text></g>
<g id="n151_persons" class="n"><ellipse cx="3203.9" cy="108.5" rx="38.1" ry="18"/><text x="3203.9" y="113.5">Persons</text></g>
<g id="n151_leaf_unacc4" class="lf"><rect x="3050" y="177.5" width="99.5" height="36"/><text x="3099.8" y="200.5">unacc (4.0/0.0)</text></g>
<g id="n151_leaf_acc4" class="lf"><rect x="3167.6" y="177.5" width="86.4" height="36"/><text x="3210.8" y="200.5">acc (4.0/0.0)</text></g>
<!-- N128 -->
<g id="n128" class="n"><ellipse cx="3327.6" cy="21.5" rx="30.5" ry="18"/><text x="3327.6" y="26.5">N128</text></g>
<g id="n128_buying" class="n"><ellipse cx="3327.6" cy="108.5" rx="35.9" ry="18"/><text x="3327.6" y="113.5">Buying</text></g>
<g id="n128_maint" class="n"><ellipse cx="3320.4" cy="195.5" rx="32.7" ry="18"/><text x="3320.4" y="200.5">Maint</text></g>
<g id="n128_leaf_unacc83" class="lf"><rect x="3404.6" y="177.5" width="106.3" height="36"/><text x="3457.8" y="200.5">unacc (83.0/0.0)</text></g>
<g id="n128_lugboot" class="n"><ellipse cx="3292.5" cy="282.5" rx="44.8" ry="18"/><text x="3292.5" y="287.5">Lug_boot</text></g>
<g id="n128_leaf_unacc44" class="lf"><rect x="3376.6" y="264.5" width="106.7" height="36"/><text x="3430" y="287.5">unacc (44.0/0.0)</text></g>
<g id="n128_leaf_acc29" class="lf"><rect x="3212.3" y="351.5" width="92.5" height="36"/><text x="3258.6" y="374.5">acc (29.0/3.0)</text></g>
<g id="n128_safety" class="n"><ellipse cx="3356.7" cy="369.5" rx="33.2" ry="18"/><text x="3356.7" y="374.5">Safety</text></g>
<g id="n128_leaf_acc6" class="lf"><rect x="3257.6" y="438.5" width="86.4" height="36"/><text x="3300.8" y="461.5">acc (6.0/1.0)</text></g>
<g id="n128_leaf_unacc8" class="lf"><rect x="3362.1" y="438.5" width="99.4" height="36"/><text x="3411.8" y="461.5">unacc (8.0/0.0)</text></g>
</svg>
